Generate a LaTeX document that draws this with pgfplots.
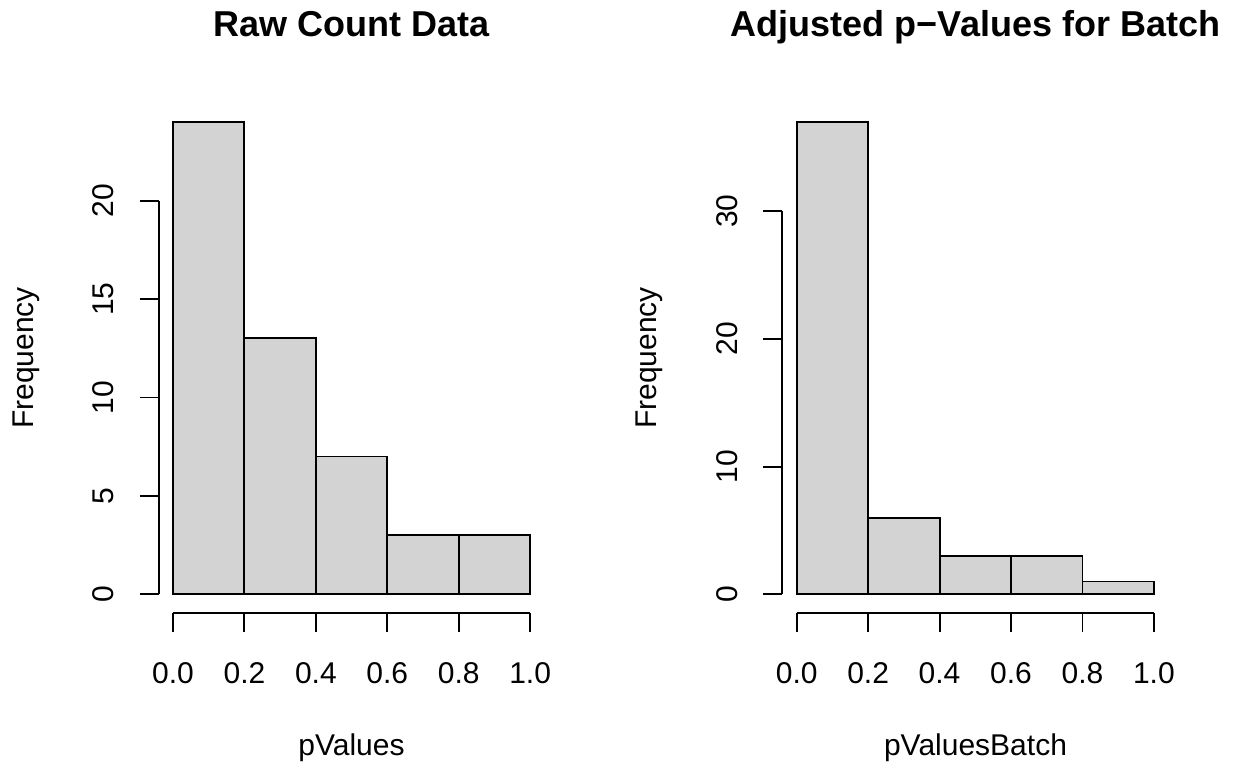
\documentclass[border=0pt]{standalone}
\usepackage{fontspec}
\setmainfont{Liberation Sans}
\usepackage{pgfplots}
\pgfplotsset{compat=1.18}

\definecolor{rgray}{RGB}{211,211,211}

% common look of the two R-style histograms
\pgfplotsset{
  rhist/.style={
    scale only axis,
    width=154.3pt, height=204.1pt,
    anchor=south west,
    clip=false,
    axis line style={draw=none},
    xmin=-0.04, xmax=1.04,
    xtick={0,0.2,0.4,0.6,0.8,1},
    xticklabels={0.0,0.2,0.4,0.6,0.8,1.0},
    xtick pos=left, ytick pos=left,
    tick align=outside,
    major tick length=7.6pt,
    tick style={black, line width=0.75pt},
    /pgf/number format/assume math mode=true,
    tick label style={font=\fontsize{12}{14}\selectfont},
    xticklabel style={anchor=north, inner sep=0pt, yshift=-12pt},
    yticklabel style={rotate=90, anchor=base, inner sep=0pt, yshift=10.5pt},
  },
  rbar/.style={ybar interval, fill=rgray, draw=black, line width=0.75pt},
}

\begin{document}
\begin{tikzpicture}
\path[use as bounding box] (0,0) rectangle (494.4pt,306.8pt);

% left panel
\begin{axis}[rhist, at={(63.48pt,61.52pt)},
    ymin=-0.96, ymax=24.96, ytick={0,5,10,15,20}]
  \addplot[rbar] coordinates {(0,24) (0.2,13) (0.4,7) (0.6,3) (0.8,3) (1.0,3)};
  \draw[line width=0.75pt] (axis cs:0,-0.96) -- (axis cs:1,-0.96);
  \draw[line width=0.75pt] (axis cs:-0.04,0) -- (axis cs:-0.04,20);
\end{axis}
\node[anchor=base, font=\fontsize{14.4}{17}\selectfont\bfseries] at (140.6pt,292pt) {Raw Count Data};
\node[anchor=base, font=\fontsize{12}{14}\selectfont] at (140.6pt,4.4pt) {pValues};
\node[anchor=base, rotate=90, font=\fontsize{12}{14}\selectfont] at (13.2pt,163.6pt) {Frequency};

% right panel
\begin{axis}[rhist, at={(312.96pt,61.52pt)},
    ymin=-1.48, ymax=38.48, ytick={0,10,20,30}]
  \addplot[rbar] coordinates {(0,37) (0.2,6) (0.4,3) (0.6,3) (0.8,1) (1.0,1)};
  \draw[line width=0.75pt] (axis cs:0,-1.48) -- (axis cs:1,-1.48);
  \draw[line width=0.75pt] (axis cs:-0.04,0) -- (axis cs:-0.04,30);
\end{axis}
\node[anchor=base, font=\fontsize{14.4}{17}\selectfont\bfseries] at (390.2pt,292pt) {Adjusted p−Values for Batch};
\node[anchor=base, font=\fontsize{12}{14}\selectfont] at (390.2pt,4.4pt) {pValuesBatch};
\node[anchor=base, rotate=90, font=\fontsize{12}{14}\selectfont] at (262.7pt,163.6pt) {Frequency};
\end{tikzpicture}
\end{document}
